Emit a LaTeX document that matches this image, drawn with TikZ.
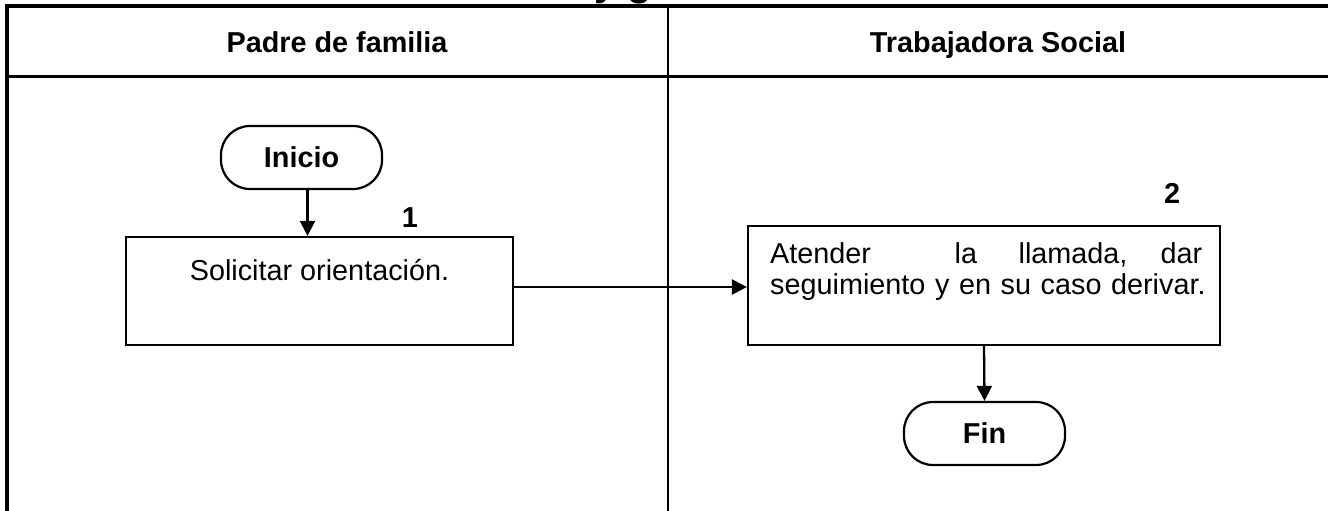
\documentclass[tikz,border=0pt]{standalone}
\usepackage{fontspec}
\setmainfont{Liberation Sans}
\usetikzlibrary{arrows.meta}
\newcommand{\dfont}{\fontsize{28.8}{31}\selectfont}
\begin{document}
\begin{tikzpicture}[x=1pt,y=-1pt,
  every node/.style={font=\dfont, inner sep=0pt},
  thickline/.style={line width=4pt, line join=miter},
  sepline/.style={line width=3pt},
  divline/.style={line width=2.4pt},
  procbox/.style={draw, line width=2.2pt, rectangle},
  termbox/.style={draw, line width=2.2pt, rectangle, rounded corners=29pt,
    minimum width=161pt, minimum height=63pt, font=\dfont\bfseries},
  arr/.style={line width=2.3pt, -{Triangle[length=15pt,width=15pt]}},
  head/.style={font=\dfont\bfseries},
  num/.style={font=\dfont\bfseries}
]
\useasboundingbox (0,0) rectangle (1328,511);
\fill[white] (0,0) rectangle (1328,511);

% title fragment cut off at the top
\node[font=\fontsize{40}{40}\selectfont\bfseries, anchor=base west] (frag) at (594,-4.5) {y g};

% lane frame
\coordinate (hl) at (6.5,77);
\coordinate (hr) at (1328,77);
\coordinate (dt) at (668,6);
\coordinate (db) at (668,511);
\draw[sepline] (hl) -- (hr);
\draw[divline] (dt) -- (db);
\draw[thickline] (6.5,511) -- (6.5,6) -- (1328,6);

% headers
\node[head, anchor=base] (h1) at (337,53) {Padre de familia};
\node[head, anchor=base] (h2) at (998,53) {Trabajadora Social};

% nodes
\node[termbox] (inicio) at (301.5,157.5) {Inicio};
\node[num] (n1) at (410,218) {1};
\node[procbox, minimum width=387pt, minimum height=108pt,
      text height=21pt, text depth=43pt] (b1) at (319.5,291) {Solicitar orientación.};

\node[num] (n2) at (1172,193.5) {2};
\node[procbox, minimum width=472pt, minimum height=119pt] (b2) at (984,285.5) {};
\node[anchor=base west, align=left, text width=440pt] (t2) at (770,263.5)
  {\makebox[432pt][l]{Atender \hspace{74pt}la \hspace{32pt}llamada,\hfill dar}\\seguimiento y en su caso derivar.};

\node[termbox] (fin) at (984.5,433.5) {Fin};

% connectors
\coordinate (ay) at (0,287);
\draw[arr] ([xshift=6pt]inicio.south) -- ([xshift=6pt]inicio.south |- b1.north);
\draw[arr] (b1.east |- ay) -- (b2.west |- ay);
\draw[arr] (b2.south) -- (fin.north);
\end{tikzpicture}
\end{document}
